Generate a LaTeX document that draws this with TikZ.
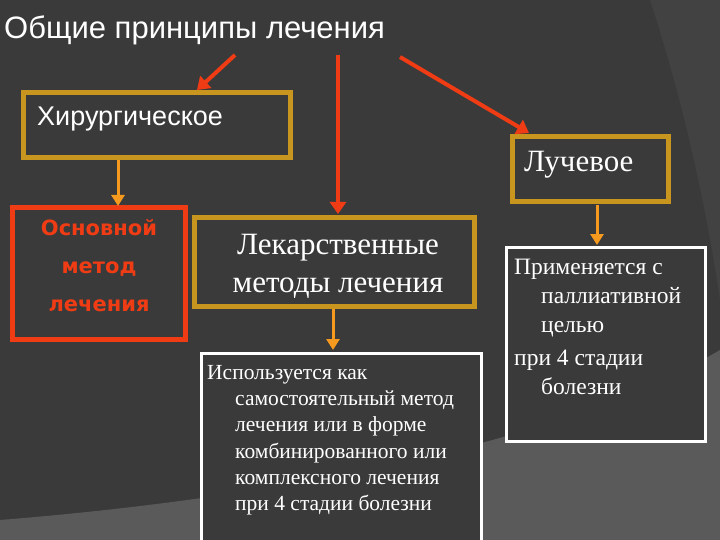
\documentclass[tikz,border=0pt]{standalone}
\usepackage{fontspec}
\setmainfont{Liberation Serif}
\setsansfont{Liberation Sans}
\newfontfamily\heavyfont{DejaVu Sans}
\usetikzlibrary{arrows.meta}
\definecolor{bg}{HTML}{3A3A3A}
\definecolor{bgl}{HTML}{5A5A5A}
\definecolor{gold}{HTML}{C8961E}
\definecolor{redx}{HTML}{F03C14}
\definecolor{orng}{HTML}{F59A1E}
\tikzset{
 goldbox/.style={draw=gold,line width=5pt,fill=bg},
 whitebox/.style={draw=white,line width=3pt,fill=bg},
 redbox/.style={draw=redx,line width=5pt,fill=bg},
 redarr/.style={draw=redx,line width=4pt,-{Triangle[length=12pt,width=16pt]}},
 orarr/.style={draw=orng,line width=3pt,-{Triangle[length=11pt,width=13pt]}},
 txt/.style={text=white,inner sep=0pt,anchor=west}
}
\begin{document}
\begin{tikzpicture}[x=1pt,y=-1pt]
\useasboundingbox (0,0) rectangle (720,540);
\fill[bg] (0,0) rectangle (720,540);
\fill[bgl] (0,520) .. controls (250,500) and (550,450) .. (720,350) -- (720,540) -- (0,540) -- cycle;
\fill[bg!85!white,opacity=0.3] (650,0) .. controls (700,150) and (720,300) .. (720,300) -- (720,0) -- cycle;
\node[txt,font=\sffamily\fontsize{31}{34}\selectfont] (title) at (4,30) {Общие принципы лечения};
\coordinate (t1) at (235,55); \coordinate (t2) at (338,55); \coordinate (t3) at (400,57);
% boxes
\draw[goldbox] (23,93) rectangle (290,158);
\node[txt,font=\sffamily\fontsize{27}{30}\selectfont] (hir) at (37,119) {Хирургическое};
\coordinate (hirT) at (197,90); \coordinate (hirB) at (118,160);
\draw[goldbox] (512,137) rectangle (668,202);
\node[txt,font=\fontsize{31}{34}\selectfont] (luch) at (524,165) {Лучевое};
\coordinate (luchT) at (529,133); \coordinate (luchB) at (597,205);
\draw[redbox] (12,208) rectangle (185,339);
\node[text=redx,align=center,font=\heavyfont\bfseries\fontsize{21}{38}\selectfont] (osn) at (99,266) {Основной\\метод\\лечения};
\coordinate (osnT) at (118,206);
\draw[goldbox] (194,218) rectangle (474,306);
\node[text=white,align=center,font=\fontsize{31}{38}\selectfont] (lek) at (338,266) {Лекарственные\\методы лечения};
\coordinate (lekT) at (338,214); \coordinate (lekB) at (333,309);
\draw[whitebox] (201,353) rectangle (481,545);
\node[txt,anchor=north west,align=left,font=\fontsize{21.5}{26.3}\selectfont] (isp) at (207,365) {Используется как\\
\hspace*{28pt}самостоятельный метод\\
\hspace*{28pt}лечения или в форме\\
\hspace*{28pt}комбинированного или\\
\hspace*{28pt}комплексного лечения\\
\hspace*{28pt}при 4 стадии болезни};
\coordinate (ispT) at (333,350);
\draw[whitebox] (506,247) rectangle (705,441);
\node[txt,anchor=north west,align=left,font=\fontsize{23.5}{29}\selectfont] (prim) at (514,259) {Применяется с\\
\hspace*{27pt}паллиативной\\
\hspace*{27pt}целью\\[4pt]
при 4 стадии\\
\hspace*{27pt}болезни};
\coordinate (primT) at (597,245);
% arrows
\draw[redarr] (t1) -- (hirT);
\draw[redarr] (t2) -- (lekT);
\draw[redarr] (t3) -- (luchT);
\draw[orarr] (hirB) -- (osnT);
\draw[orarr] (lekB) -- (ispT);
\draw[orarr] (luchB) -- (primT);
\end{tikzpicture}
\end{document}
